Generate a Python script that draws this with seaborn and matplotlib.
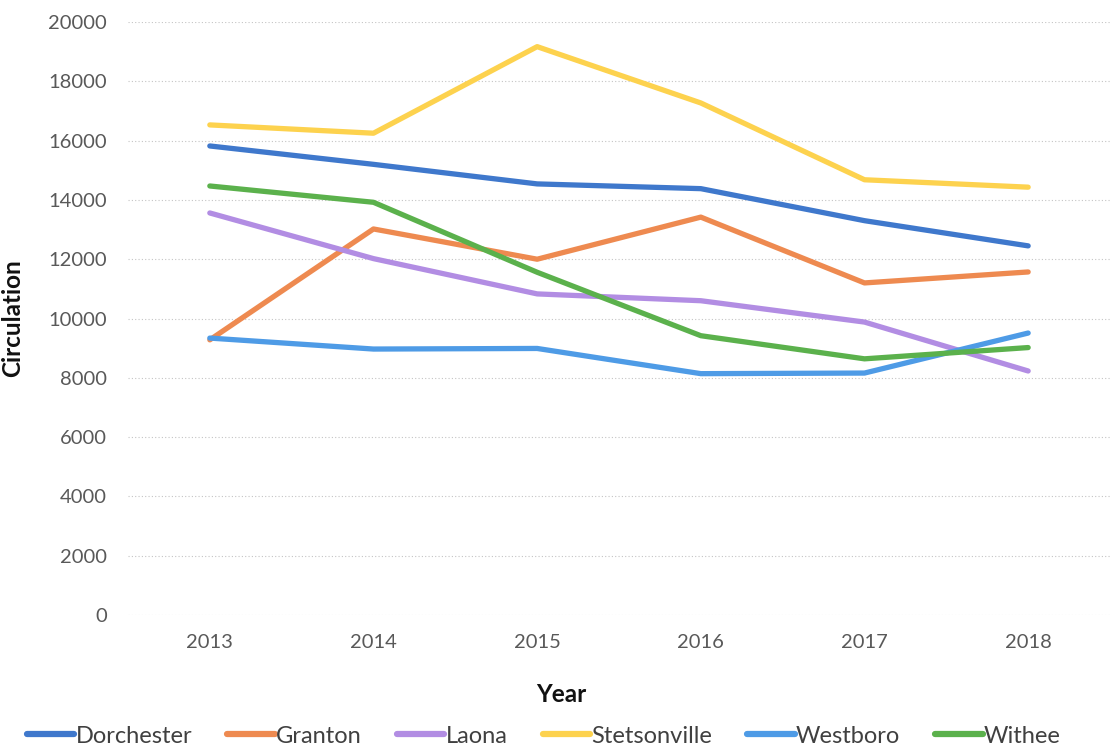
import matplotlib
matplotlib.use("Agg")
import matplotlib.pyplot as plt
import seaborn as sns
import pandas as pd
from matplotlib.lines import Line2D

years = ["2013", "2014", "2015", "2016", "2017", "2018"]
dorchester = [15820, 15200, 14540, 14380, 13300, 12450]
granton = [9280, 13020, 12000, 13420, 11200, 11570]
laona = [13560, 12020, 10830, 10600, 9880, 8230]
stetsonville = [16530, 16250, 19170, 17270, 14680, 14430]
westboro = [9340, 8970, 8990, 8140, 8160, 9510]
withee = [14470, 13920, 11560, 9420, 8640, 9020]

series_names = ["Dorchester", "Granton", "Laona", "Stetsonville", "Westboro", "Withee"]
series_vals = [dorchester, granton, laona, stetsonville, westboro, withee]
colors = ["#3F78CC", "#EE8A50", "#B28DE3", "#FDD24E", "#4E9BE6", "#5BB14C"]

rows = []
for name, vals in zip(series_names, series_vals):
    for y, v in zip(years, vals):
        rows.append({"Year": y, "Circulation": v, "Library": name})
df = pd.DataFrame(rows)

sns.set_theme(style="white")
plt.rcParams["font.family"] = ["Lato", "DejaVu Sans"]

fig = plt.figure(figsize=(11.10, 7.52), dpi=100)
ax = fig.add_axes([0.1153, 0.1822, 0.8847, 0.7885])

sns.lineplot(data=df, x="Year", y="Circulation", hue="Library",
             hue_order=series_names, palette=colors, linewidth=3.8,
             ax=ax, legend=False, sort=False)

ax.set_xlim(-0.5, 5.5)
ax.set_ylim(0, 20000)
ax.set_yticks(range(0, 20001, 2000))
ax.yaxis.grid(True, linestyle=(0, (1, 2)), color="#C4C4C4", linewidth=0.8)
ax.xaxis.grid(False)
for s in ax.spines.values():
    s.set_visible(False)
ax.tick_params(axis="both", labelsize=14.5, labelcolor="#595959", length=0)
ax.tick_params(axis="y", pad=15)
ax.tick_params(axis="x", pad=14)
ax.set_xlabel("Year", fontsize=17.5, fontweight="bold", color="#111111")
ax.set_ylabel("Circulation", fontsize=17.5, fontweight="bold", color="#111111")
ax.xaxis.set_label_coords(0.441, -0.115)
ax.yaxis.set_label_coords(-0.106, 0.5)

handles = [Line2D([0], [0], color=c, linewidth=4.5) for c in colors]
fig.legend(handles, series_names, loc="center", bbox_to_anchor=(0.49, 0.021),
           ncol=6, frameon=False, fontsize=17, handlelength=2.0, handletextpad=0.05,
           columnspacing=1.5, labelcolor="#404040")

fig.savefig("out.png", dpi=100)
